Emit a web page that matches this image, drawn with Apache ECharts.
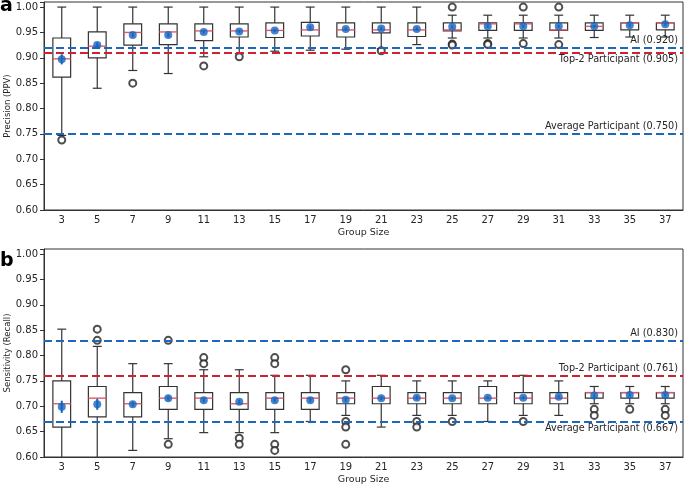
<!DOCTYPE html>
<html>
<head>
<meta charset="utf-8">
<script src="https://cdn.jsdelivr.net/npm/echarts@6/dist/echarts.min.js"></script>
<style>
  html, body { margin: 0; padding: 0; background: #fff; }
  #main { width: 685px; height: 486px; }
</style>
</head>
<body>
<div id="main"></div>
<script>
// group sizes (x categories)
var groups = ['3','5','7','9','11','13','15','17','19','21','23','25','27','29','31','33','35','37'];

// panel a - precision (PPV)
var precLow    = [0.747,0.840,0.875,0.869,0.902,0.908,0.913,0.915,0.917,0.918,0.926,0.939,0.939,0.939,0.939,0.940,0.941,0.941];
var precQ1     = [0.862,0.900,0.925,0.926,0.934,0.941,0.940,0.943,0.941,0.949,0.942,0.953,0.954,0.954,0.954,0.954,0.955,0.955];
var precMedian = [0.898,0.923,0.950,0.951,0.953,0.953,0.954,0.955,0.955,0.955,0.955,0.955,0.967,0.967,0.955,0.962,0.969,0.969];
var precQ3     = [0.939,0.951,0.967,0.967,0.967,0.967,0.969,0.970,0.969,0.969,0.969,0.969,0.969,0.969,0.969,0.969,0.969,0.969];
var precHigh   = [1.000,1.000,1.000,1.000,1.000,1.000,1.000,1.000,1.000,1.000,1.000,0.984,0.984,0.984,0.984,0.984,0.984,0.984];
var precMean   = [0.897,0.925,0.945,0.945,0.951,0.952,0.954,0.960,0.957,0.958,0.957,0.961,0.962,0.962,0.962,0.962,0.964,0.966];
var precErr    = [0.010,0.005,0.004,0.004,0.003,0.003,0.003,0.003,0.003,0.003,0.003,0.003,0.003,0.003,0.003,0.003,0.003,0.003];
var precOutliers = [[0.738],[],[0.850],[],[0.884],[0.902],[],[],[],[0.914],[],[1.000,0.927,0.925],[0.928,0.926],[1.000,0.928],[1.000,0.926],[],[],[]];
var precRefs = [
  {name: 'AI', value: 0.920},
  {name: 'Top-2 Participant', value: 0.905},
  {name: 'Average Participant', value: 0.750}
];

// panel b - sensitivity (recall)
var recLow    = [0.580,0.580,0.613,0.636,0.648,0.648,0.648,0.670,0.682,0.659,0.682,0.682,0.670,0.682,0.682,0.705,0.705,0.705];
var recQ1     = [0.659,0.679,0.679,0.694,0.694,0.694,0.694,0.694,0.705,0.705,0.705,0.705,0.705,0.705,0.705,0.716,0.716,0.716];
var recMedian = [0.705,0.716,0.705,0.716,0.716,0.705,0.716,0.716,0.716,0.716,0.716,0.716,0.716,0.716,0.716,0.727,0.727,0.727];
var recQ3     = [0.750,0.739,0.727,0.739,0.727,0.727,0.727,0.727,0.727,0.739,0.727,0.727,0.739,0.727,0.727,0.727,0.727,0.727];
var recHigh   = [0.852,0.818,0.784,0.784,0.772,0.772,0.761,0.761,0.750,0.761,0.750,0.750,0.750,0.761,0.750,0.739,0.739,0.739];
var recMean   = [0.699,0.704,0.704,0.716,0.712,0.709,0.712,0.712,0.713,0.716,0.717,0.716,0.717,0.717,0.719,0.721,0.722,0.722];
var recErr    = [0.012,0.011,0.005,0.005,0.004,0.004,0.004,0.004,0.004,0.004,0.004,0.003,0.003,0.003,0.003,0.003,0.003,0.003];
var recOutliers = [[],[0.852,0.830],[],[0.830,0.625],[0.796,0.784],[0.637,0.625],[0.796,0.784,0.625,0.613],[],[0.772,0.670,0.659,0.625],[],[0.670,0.659],[0.670],[],[0.670],[],[0.694,0.682],[0.694],[0.694,0.682]];
var recRefs = [
  {name: 'AI', value: 0.830},
  {name: 'Top-2 Participant', value: 0.761},
  {name: 'Average Participant', value: 0.667}
];

var FONT = 'DejaVu Sans';
var TXT = '#262626';
var BLUE = '#1f66c1';
var RED = '#cc2233';
var MEANC = '#1565c0';

//箱线图 renderItem
function renderBox(params, api) {
  var x = api.value(0);
  var cs = params.coordSys;
  var bottomY = cs.y + cs.height;
  var lo = api.coord([x, api.value(1)]);
  var q1 = api.coord([x, api.value(2)]);
  var md = api.coord([x, api.value(3)]);
  var q3 = api.coord([x, api.value(4)]);
  var hi = api.coord([x, api.value(5)]);
  var bw = api.size([1, 0])[0] * 0.5;
  var cx = lo[0];
  var half = bw / 2, cap = bw / 4;
  var loY = Math.min(lo[1], bottomY);
  var st = {stroke: '#333', lineWidth: 1.2, fill: null};
  var kids = [
    {type: 'line', shape: {x1: cx, y1: q1[1], x2: cx, y2: loY}, style: st},
    {type: 'line', shape: {x1: cx, y1: q3[1], x2: cx, y2: hi[1]}, style: st},
    {type: 'line', shape: {x1: cx - cap, y1: hi[1], x2: cx + cap, y2: hi[1]}, style: st}
  ];
  if (lo[1] <= bottomY) {
    kids.push({type: 'line', shape: {x1: cx - cap, y1: lo[1], x2: cx + cap, y2: lo[1]}, style: st});
  }
  kids.push({type: 'rect', shape: {x: cx - half, y: q3[1], width: bw, height: q1[1] - q3[1]}, style: st});
  kids.push({type: 'line', shape: {x1: cx - half, y1: md[1], x2: cx + half, y2: md[1]}, style: {stroke: '#e2596a', lineWidth: 1.4}});
  return {type: 'group', children: kids};
}

function renderErr(params, api) {
  var x = api.value(0);
  var a = api.coord([x, api.value(1)]);
  var b = api.coord([x, api.value(2)]);
  return {type: 'line', shape: {x1: a[0], y1: a[1], x2: b[0], y2: b[1]}, style: {stroke: MEANC, lineWidth: 2}};
}

function buildPanel(idx, low, q1, med, q3, high, mean, err, outl, refs, labelPos) {
  var boxData = [], errData = [], meanData = [], outData = [];
  for (var i = 0; i < groups.length; i++) {
    boxData.push([i, low[i], q1[i], med[i], q3[i], high[i]]);
    errData.push([i, mean[i] - err[i], mean[i] + err[i]]);
    meanData.push([i, mean[i]]);
    for (var j = 0; j < outl[i].length; j++) outData.push([i, outl[i][j]]);
  }
  var colors = [BLUE, RED, BLUE];
  var mlData = refs.map(function (r, k) {
    return {
      yAxis: r.value,
      lineStyle: {color: colors[k], type: [8, 4], width: 2},
      label: {
        show: true, position: labelPos[k], distance: [5, 2],
        formatter: r.name + ' (' + r.value.toFixed(3) + ')',
        color: TXT, fontFamily: FONT, fontSize: 9.7
      }
    };
  });
  return [
    {type: 'custom', xAxisIndex: idx, yAxisIndex: idx, renderItem: renderBox,
     encode: {x: 0, y: [1, 2, 3, 4, 5]}, data: boxData, z: 2, silent: true},
    {type: 'scatter', xAxisIndex: idx, yAxisIndex: idx, data: outData, symbol: 'emptyCircle',
     symbolSize: 7, itemStyle: {color: '#222', borderWidth: 1.1}, z: 3, silent: true},
    {type: 'line', xAxisIndex: idx, yAxisIndex: idx, data: [], z: 4,
     markLine: {symbol: 'none', silent: true, animation: false, data: mlData}},
    {type: 'custom', xAxisIndex: idx, yAxisIndex: idx, renderItem: renderErr,
     encode: {x: 0, y: [1, 2]}, data: errData, z: 5, silent: true},
    {type: 'scatter', xAxisIndex: idx, yAxisIndex: idx, data: meanData, symbol: 'circle',
     symbolSize: 8, itemStyle: {color: MEANC}, z: 6, silent: true}
  ];
}

function xAxisCfg(idx) {
  return {
    type: 'category', gridIndex: idx, data: groups, boundaryGap: true,
    name: 'Group Size', nameLocation: 'middle', nameGap: 18, nameMoveOverlap: false,
    nameTextStyle: {color: TXT, fontFamily: FONT, fontSize: 9.5},
    axisLine: {lineStyle: {color: '#333'}},
    axisTick: {alignWithLabel: true, length: 4, lineStyle: {color: '#333'}},
    axisLabel: {color: TXT, fontFamily: FONT, fontSize: 10, margin: 5},
    splitLine: {show: false}
  };
}

function yAxisCfg(idx, name) {
  return {
    type: 'value', gridIndex: idx, min: 0.6, max: 1.01, interval: 0.05,
    name: name, nameLocation: 'middle', nameGap: 32, nameMoveOverlap: false,
    nameTextStyle: {color: TXT, fontFamily: FONT, fontSize: 8.5},
    axisLine: {show: true, lineStyle: {color: '#333'}},
    axisTick: {show: true, length: 4, lineStyle: {color: '#333'}},
    axisLabel: {color: TXT, fontFamily: FONT, fontSize: 10, margin: 6,
      formatter: function (v) { return v > 1.001 ? '' : v.toFixed(2); }},
    splitLine: {show: false}
  };
}

var option = {
  animation: false,
  backgroundColor: '#fff',
  title: [
    {text: 'a', left: 0, top: -3, padding: 0, textStyle: {fontFamily: FONT, fontSize: 19, fontWeight: 'bold', color: '#000'}},
    {text: 'b', left: 0, top: 252, padding: 0, textStyle: {fontFamily: FONT, fontSize: 19, fontWeight: 'bold', color: '#000'}}
  ],
  grid: [
    {left: 44, right: 2, top: 2, height: 208, outerBoundsMode: 'none', containLabel: false,
     show: true, borderColor: '#333', borderWidth: 1, backgroundColor: 'transparent'},
    {left: 44, right: 2, top: 249, height: 208, outerBoundsMode: 'none', containLabel: false,
     show: true, borderColor: '#333', borderWidth: 1, backgroundColor: 'transparent'}
  ],
  xAxis: [xAxisCfg(0), xAxisCfg(1)],
  yAxis: [yAxisCfg(0, 'Precision (PPV)'), yAxisCfg(1, 'Sensitivity (Recall)')],
  series: [].concat(
    buildPanel(0, precLow, precQ1, precMedian, precQ3, precHigh, precMean, precErr, precOutliers, precRefs,
      ['insideEndTop', 'insideEndBottom', 'insideEndTop']),
    buildPanel(1, recLow, recQ1, recMedian, recQ3, recHigh, recMean, recErr, recOutliers, recRefs,
      ['insideEndTop', 'insideEndTop', 'insideEndBottom'])
  )
};

var chart = echarts.init(document.getElementById('main'));
chart.setOption(option);
</script>
</body>
</html>
